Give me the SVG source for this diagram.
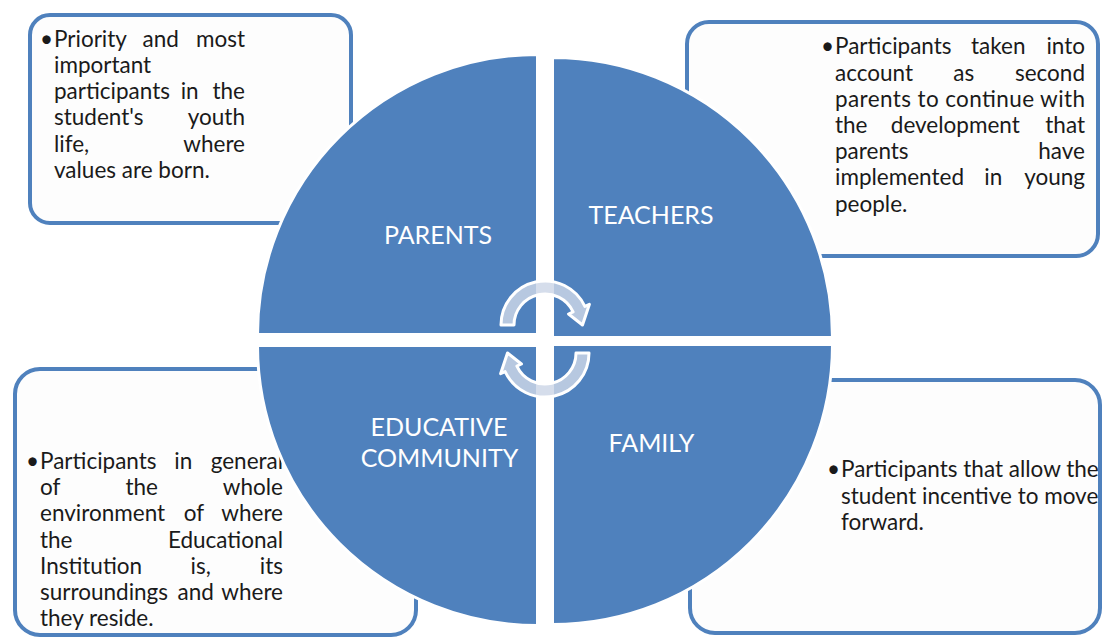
<svg xmlns="http://www.w3.org/2000/svg" width="1102" height="637" viewBox="0 0 1102 637">
<style>
.box{fill:#FDFDFD;stroke:#4F81BD;stroke-width:4}
.q{fill:#4F81BD;stroke:#FFFFFF;stroke-width:3}
.t{font-family:Lato,'Open Sans','Liberation Sans',sans-serif;font-size:22.5px;fill:#1A1A1A}
.e{text-anchor:end}
.m{text-anchor:middle}
.lbl{font-family:Lato,'Open Sans','Liberation Sans',sans-serif;font-size:25px;fill:#FFFFFF;text-anchor:middle}
.arr{fill:#CDD6E7;fill-opacity:0.83;stroke:#FFFFFF;stroke-width:3;stroke-linejoin:round}
</style>
<rect width="1102" height="637" fill="#FFFFFF"/>

<g id="box-parents">
<rect class="box" x="30" y="15" width="321" height="208" rx="20"/>
<g class="t">
<text class="e" x="53" y="46.7">•</text>
<text x="54" y="46.7">Priority</text><text class="m" x="160.7" y="46.7">and</text><text class="e" x="245" y="46.7">most</text>
<text x="54" y="72.9">important</text>
<text x="54" y="99.1">participants</text><text class="m" x="189.7" y="99.1">in</text><text class="e" x="245" y="99.1">the</text>
<text x="54" y="125.3">student's</text><text class="e" x="245" y="125.3">youth</text>
<text x="54" y="151.5">life,</text><text class="e" x="245" y="151.5">where</text>
<text x="54" y="177.7">values are born.</text>
</g>
</g>

<g id="box-teachers">
<rect class="box" x="687" y="22" width="411" height="234" rx="22"/>
<g class="t">
<text class="e" x="834" y="54.3">•</text>
<text x="835" y="54.3">Participants</text><text class="m" x="998.3" y="54.3">taken</text><text class="e" x="1085" y="54.3">into</text>
<text x="835" y="80.5">account</text><text class="m" x="963.7" y="80.5">as</text><text class="e" x="1085" y="80.5">second</text>
<text x="835" y="106.7" textLength="250" lengthAdjust="spacing">parents to continue with</text>
<text x="835" y="132.9">the</text><text class="m" x="955.3" y="132.9">development</text><text class="e" x="1085" y="132.9">that</text>
<text x="835" y="159.1">parents</text><text class="e" x="1085" y="159.1">have</text>
<text x="835" y="185.3">implemented</text><text class="m" x="993.3" y="185.3">in</text><text class="e" x="1085" y="185.3">young</text>
<text x="835" y="211.5">people.</text>
</g>
</g>

<g id="box-educative-community">
<rect class="box" x="15" y="369" width="401" height="266" rx="25"/>
<g class="t">
<text class="e" x="39" y="469">•</text>
<text x="40" y="469">Participants</text><text class="m" x="183.3" y="469">in</text><text x="210.7" y="469">general</text>
<text x="40" y="495.2">of</text><text class="m" x="141.7" y="495.2">the</text><text class="e" x="283" y="495.2">whole</text>
<text x="40" y="521.4">environment</text><text class="m" x="194" y="521.4">of</text><text class="e" x="283" y="521.4">where</text>
<text x="40" y="547.6">the</text><text class="e" x="283" y="547.6">Educational</text>
<text x="40" y="573.8">Institution</text><text class="m" x="200.7" y="573.8">is,</text><text class="e" x="283" y="573.8">its</text>
<text x="40" y="600">surroundings</text><text class="m" x="195.7" y="600">and</text><text class="e" x="283" y="600">where</text>
<text x="40" y="626.2">they reside.</text>
</g>
</g>

<g id="box-family">
<rect class="box" x="690" y="380" width="410" height="253" rx="25"/>
<g class="t">
<text class="e" x="840" y="477.3">•</text>
<text x="841" y="477.3">Participants that allow the</text>
<text x="841" y="503.5">student incentive to move</text>
<text x="841" y="529.7">forward.</text>
</g>
</g>

<g id="node-parents">
<path class="q" d="M537.5,334.5 L257.5,334.5 A280,280 0 0 1 537.5,54.5 Z"/>
<text class="lbl" x="438" y="244">PARENTS</text>
</g>
<g id="node-teachers">
<path class="q" d="M552.5,337.5 L552.5,57.5 A280,280 0 0 1 832.5,337.5 Z"/>
<text class="lbl" x="651" y="224">TEACHERS</text>
</g>
<g id="node-educative-community">
<path class="q" d="M537.5,345.5 L537.5,625.5 A280,280 0 0 1 257.5,345.5 Z"/>
<text class="lbl" x="439" y="436">EDUCATIVE</text>
<text class="lbl" x="439.5" y="467">COMMUNITY</text>
</g>
<g id="node-family">
<path class="q" d="M552.5,344.5 L832.5,344.5 A280,280 0 0 1 552.5,624.5 Z"/>
<text class="lbl" x="651.5" y="452">FAMILY</text>
</g>

<g id="connectors">
<path class="arr" d="M501,325 A44,44 0 0 1 584.88,306.40 L589.41,304.29 L582.5,325 L568.56,314.01 L573.10,311.90 A31,31 0 0 0 514,325 Z"/>
<path class="arr" d="M589,353 A44,44 0 0 1 505.12,371.60 L500.59,373.71 L507.5,353 L521.44,363.99 L516.90,366.10 A31,31 0 0 0 576,353 Z"/>
</g>
</svg>
